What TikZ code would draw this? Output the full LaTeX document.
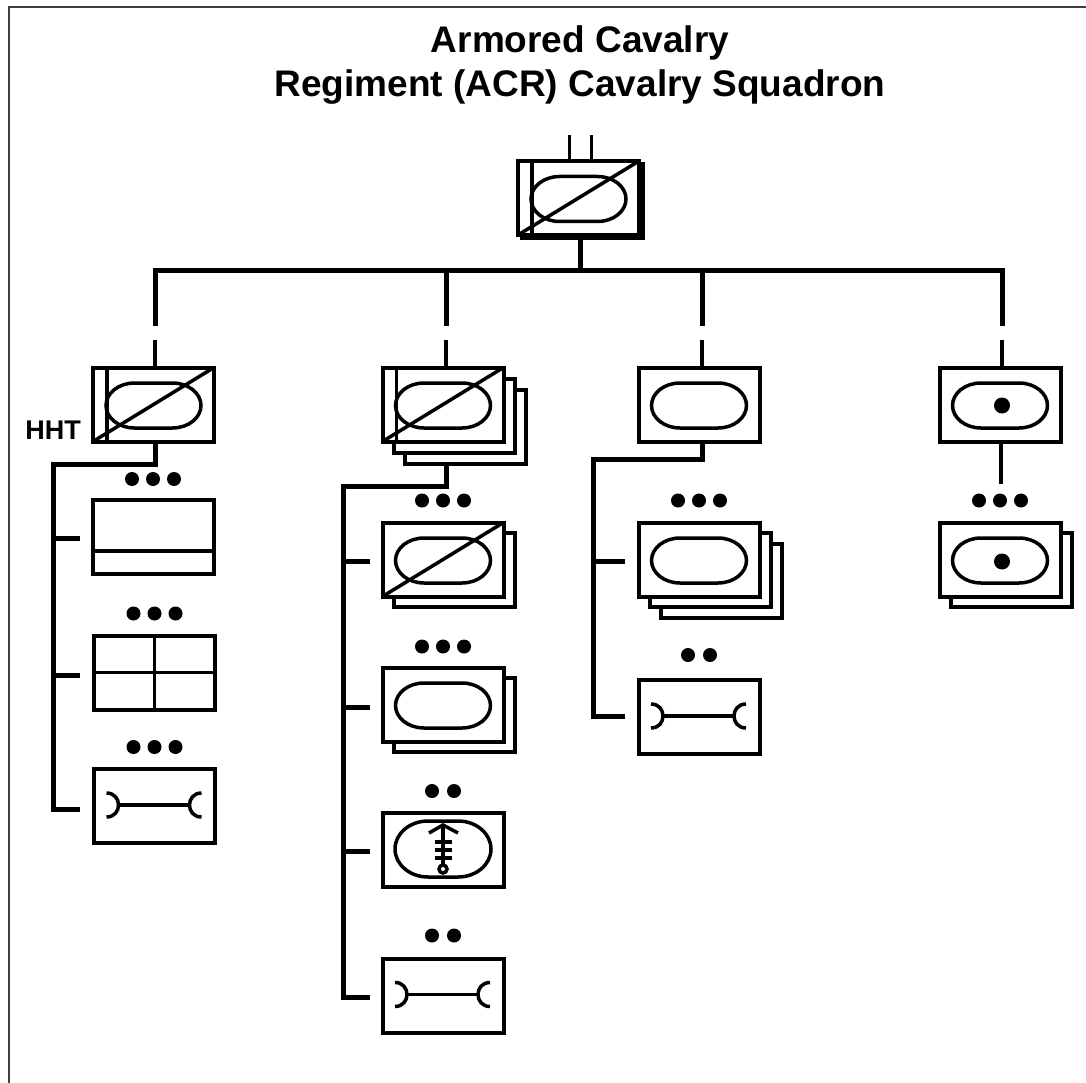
\documentclass[tikz,border=0pt]{standalone}
\usepackage{fontspec}
\setmainfont{Liberation Sans}
\begin{document}
\begin{tikzpicture}[x=1pt,y=-1pt,
  unit/.style={draw=black,fill=white,line width=4pt,minimum width=121pt,minimum height=74pt,inner sep=0pt,outer sep=0pt,rectangle},
  sym/.style={draw=black,line width=3.5pt},
  bus/.style={draw=black,line width=5pt},
  thinbus/.style={draw=black,line width=3.5pt},
  stub/.style={draw=black,line width=5pt},
  lbl/.style={font=\bfseries,inner sep=0pt}]
\newcommand{\ovalgen}[5]{\draw[sym] ([shift={(-#4,#5-#3)}]#1.center) -- ([shift={(#4,#5-#3)}]#1.center) arc[start angle=-90,end angle=90,x radius=#2-#4,y radius=#3] -- ([shift={(-#4,#5+#3)}]#1.center) arc[start angle=90,end angle=270,x radius=#2-#4,y radius=#3] -- cycle;}
\newcommand{\ovalsym}[1]{\ovalgen{#1}{47.5}{22.5}{19}{1}}
\newcommand{\diagsym}[1]{\draw[sym] (#1.south west) -- (#1.north east);}
\newcommand{\hqbar}[1]{\draw[sym] ([xshift=14pt]#1.north west) -- ([xshift=14pt]#1.south west);}
\newcommand{\wrenchsym}[1]{\draw[sym] ([shift={(-36,-1)}]#1.center) -- ([shift={(35,-1)}]#1.center);
  \draw[sym] ([shift={(-48,-13)}]#1.center) .. controls ([shift={(-32,-13)}]#1.center) and ([shift={(-32,11)}]#1.center) .. ([shift={(-48,11)}]#1.center);
  \draw[sym] ([shift={(47,-13)}]#1.center) .. controls ([shift={(31,-13)}]#1.center) and ([shift={(31,11)}]#1.center) .. ([shift={(47,11)}]#1.center);}
\newcommand{\threedots}[2]{\fill ([shift={(-21,#2)}]#1.north) circle (7pt) ([shift={(0,#2)}]#1.north) circle (7pt) ([shift={(21,#2)}]#1.north) circle (7pt);}
\newcommand{\twodots}[2]{\fill ([shift={(-11,#2)}]#1.north) circle (7pt) ([shift={(11,#2)}]#1.north) circle (7pt);}
\useasboundingbox (0,0) rectangle (1086,1083);
% frame
\draw[line width=2.5pt,draw=black!75] (9,1083) -- (9,7) -- (1086,7);
% title
\node[lbl,font=\bfseries\fontsize{37}{37}\selectfont,anchor=base] (t1) at (580,53) {Armored Cavalry};
\node[lbl,font=\bfseries\fontsize{37}{37}\selectfont,anchor=base] (t2) at (580,97) {Regiment (ACR) Cavalry Squadron};
% top unit
\node[unit] (topb) at (582.5,201) {};
\node[unit] (top) at (578.5,198) {};
\coordinate (pa) at ([xshift=-9pt]top.north);
\coordinate (pb) at ([xshift=13pt]top.north);
\draw[sym] (pa) -- ++(0,-26);
\draw[sym] (pb) -- ++(0,-26);
\ovalsym{top}\hqbar{top}\diagsym{top}
% first row
\node[unit] (hht) at (153.5,404.5) {};
\ovalsym{hht}\hqbar{hht}\diagsym{hht}
\node[lbl,font=\bfseries\fontsize{27}{27}\selectfont,anchor=east] (hhtl) at (81,430) {HHT};
\node[unit] (tr3) at (465,427) {};
\node[unit] (tr2) at (454,416) {};
\node[unit] (tr) at (443,404.5) {};
\ovalsym{tr}\hqbar{tr}\diagsym{tr}
\node[unit] (tk) at (699,404.5) {};
\ovalsym{tk}
\node[unit] (ar) at (1000,404.5) {};
\ovalsym{ar}\fill ([shift={(2,1)}]ar.center) circle (8pt);
% left column
\node[unit] (a1) at (153,537) {};
\draw[sym] ([yshift=23pt]a1.south west) -- ([yshift=23pt]a1.south east);
\threedots{a1}{-21}
\node[unit] (a2) at (154.5,672.5) {};
\draw[sym] (a2.north) -- (a2.south) (a2.west) -- (a2.east);
\threedots{a2}{-22}
\node[unit] (a3) at (154.5,806) {};
\wrenchsym{a3}
\threedots{a3}{-22}
% second column
\node[unit] (b1c) at (454,570) {};
\node[unit] (b1) at (443,559.5) {};
\ovalsym{b1}\diagsym{b1}
\threedots{b1}{-22}
\node[unit] (b2c) at (454,715) {};
\node[unit] (b2) at (443,704.5) {};
\ovalsym{b2}
\threedots{b2}{-21}
\node[unit] (b3) at (443,850) {};
\ovalgen{b3}{48}{28}{15}{-1}
\draw[sym] ([shift={(-14,-17)}]b3.center) -- ([shift={(0,-25)}]b3.center) -- ([shift={(15,-17)}]b3.center);
\draw[sym] ([shift={(0,-25)}]b3.center) -- ([shift={(0,15)}]b3.center);
\draw[sym] ([shift={(-8,-8)}]b3.center) -- ([shift={(9,-8)}]b3.center);
\draw[sym] ([shift={(-8,0)}]b3.center) -- ([shift={(9,0)}]b3.center);
\draw[sym] ([shift={(-8,8)}]b3.center) -- ([shift={(9,8)}]b3.center);
\draw[sym,fill=white] ([shift={(0,19)}]b3.center) circle (4pt);
\twodots{b3}{-22}
\node[unit] (b4) at (443,995.5) {};
\wrenchsym{b4}
\twodots{b4}{-23}
% third column
\node[unit] (c1c) at (721,581) {};
\node[unit] (c1b) at (710,570) {};
\node[unit] (c1) at (699,559.5) {};
\ovalsym{c1}
\threedots{c1}{-22}
\node[unit] (c2) at (699,717) {};
\wrenchsym{c2}
\twodots{c2}{-25}
% fourth column
\node[unit] (d1b) at (1011,570) {};
\node[unit] (d1) at (1000,559.5) {};
\ovalsym{d1}\fill ([shift={(2,2)}]d1.center) circle (8pt);
\threedots{d1}{-22}
% connectors
\coordinate (trunk) at (580,270);
\coordinate (d1a) at (155,270); \coordinate (d1e) at (155,326); \coordinate (d1s) at (155,340);
\coordinate (d2a) at (446,270); \coordinate (d2e) at (446,326); \coordinate (d2s) at (446,340);
\coordinate (d3a) at (702,270); \coordinate (d3e) at (702,326); \coordinate (d3s) at (702,340);
\coordinate (d4a) at (1002,270); \coordinate (d4e) at (1002,326); \coordinate (d4s) at (1002,340);
\draw[bus,line cap=rect] (d1a) -- (d4a);
\draw[bus] ([xshift=-2.5pt]topb.south) -- (trunk);
\draw[bus] (d1a) -- (d1e) (d2a) -- (d2e) (d3a) -- (d3e) (d4a) -- (d4e);
\draw[thinbus] (d1s) -- ([xshift=1.5pt]hht.north);
\draw[thinbus] (d2s) -- ([xshift=3pt]tr.north);
\draw[thinbus] (d3s) -- ([xshift=3pt]tk.north);
\draw[thinbus] (d4s) -- ([xshift=2pt]ar.north);
% left tree
\coordinate (a3s) at (80,809);
\draw[bus,line join=miter] ([xshift=1.5pt]hht.south) |- (53,464) -- (53,809) -- (a3s);
\coordinate (a1j) at (53,538); \coordinate (a1s) at (80,538);
\coordinate (a2j) at (53,675); \coordinate (a2s) at (80,675);
\draw[stub] (a1j) -- (a1s) (a2j) -- (a2s);
% middle tree
\coordinate (b4s) at (370,997);
\draw[bus] ([xshift=3pt]tr3.south -| tr.south) |- (343,486) -- (343,997) -- (b4s);
\coordinate (b1j) at (343,561); \coordinate (b1s) at (370,561);
\coordinate (b2j) at (343,707); \coordinate (b2s) at (370,707);
\coordinate (b3j) at (343,851); \coordinate (b3s) at (370,851);
\draw[stub] (b1j) -- (b1s) (b2j) -- (b2s) (b3j) -- (b3s);
% third tree
\coordinate (c2s) at (625,716);
\draw[bus] ([xshift=3pt]tk.south) |- (593,459) -- (593,716) -- (c2s);
\coordinate (c1j) at (593,561); \coordinate (c1s) at (625,561);
\draw[stub] (c1j) -- (c1s);
% fourth
\coordinate (d1t) at (1001,484);
\draw[thinbus] ([xshift=1pt]ar.south) -- (d1t);
\end{tikzpicture}
\end{document}
